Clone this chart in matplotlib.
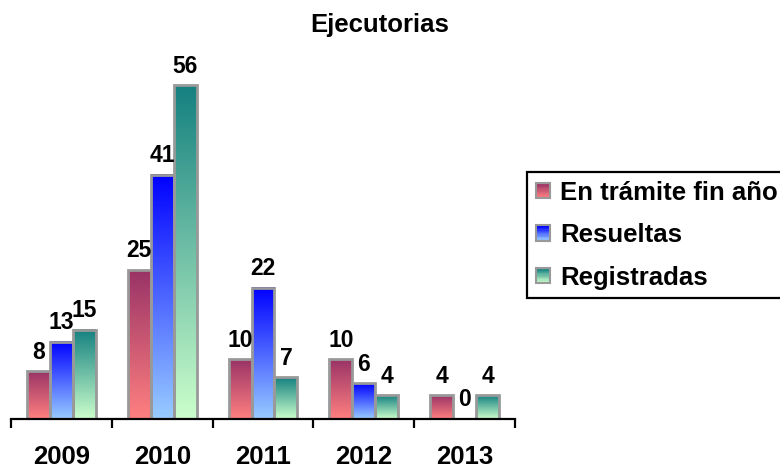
import numpy as np
import matplotlib
matplotlib.use("Agg")
import matplotlib.pyplot as plt
from matplotlib.colors import LinearSegmentedColormap
from matplotlib.patches import Rectangle
from matplotlib.legend_handler import HandlerBase

plt.rcParams['font.family'] = ['Liberation Sans', 'DejaVu Sans']
plt.rcParams['font.weight'] = 'bold'

years = ['2009', '2010', '2011', '2012', '2013']
en_tramite = [8, 25, 10, 10, 4]
resueltas = [13, 41, 22, 6, 0]
registradas = [15, 56, 7, 4, 4]

series_names = ['En trámite fin año', 'Resueltas', 'Registradas']
# (bottom colour, top colour) of each gradient
series_colors = [('#ff8080', '#993366'),
                 ('#99ccff', '#0000ff'),
                 ('#ccffcc', '#148080')]


class GradProxy:
    def __init__(self, bottom, top):
        self.bottom = bottom
        self.top = top


class GradHandler(HandlerBase):
    # legend key drawn as stacked strips to fake a vertical gradient
    def create_artists(self, legend, orig_handle, xdescent, ydescent,
                       width, height, fontsize, trans):
        cmap = LinearSegmentedColormap.from_list('g', [orig_handle.bottom, orig_handle.top])
        n = 12
        arts = []
        for i in range(n):
            r = Rectangle((-xdescent, -ydescent + i * height / n), width, height / n + 0.3,
                          facecolor=cmap(i / (n - 1)), edgecolor='none', transform=trans)
            arts.append(r)
        arts.append(Rectangle((-xdescent, -ydescent), width, height, facecolor='none',
                              edgecolor='#999999', lw=1.5, transform=trans))
        return arts


fig = plt.figure(figsize=(7.8, 4.68), dpi=100)
ax = fig.add_axes([11 / 780, 1 - 419 / 468, 504 / 780, 357.6 / 468])

x = np.arange(len(years))
w = 0.228
data = [en_tramite, resueltas, registradas]
grad = np.linspace(0, 1, 256).reshape(-1, 1)

for k, (vals, (c0, c1)) in enumerate(zip(data, series_colors)):
    cmap = LinearSegmentedColormap.from_list('s%d' % k, [c0, c1])
    xs = x + (k - 1) * w
    for xi, v in zip(xs, vals):
        if v > 0:
            ax.imshow(grad, cmap=cmap, extent=[xi - w / 2, xi + w / 2, 0, v],
                      origin='lower', aspect='auto', zorder=2)
            ax.add_patch(Rectangle((xi - w / 2, 0), w, v, facecolor='none',
                                   edgecolor='#999999', lw=2, zorder=3))
        ax.annotate(str(v), (xi, v), xytext=(0, 5.5), textcoords='offset points',
                    ha='center', va='bottom', fontsize=16.5, fontweight='bold', zorder=4)

ax.set_xlim(-0.5, len(years) - 0.5)
ax.set_ylim(0, 60)

for s in ['top', 'right', 'left']:
    ax.spines[s].set_visible(False)
ax.spines['bottom'].set_linewidth(1.6)
ax.spines['bottom'].set_zorder(5)
ax.set_yticks([])

ax.set_xticks(x)
ax.set_xticklabels(years, fontsize=18.5, fontweight='bold')
ax.tick_params(axis='x', which='major', length=0, pad=18.5)
ax.set_xticks(np.arange(len(years) + 1) - 0.5, minor=True)
ax.tick_params(axis='x', which='minor', length=6.5, width=1.6, direction='out')

fig.text(380 / 780, 1 - 32 / 468, 'Ejecutorias', ha='center', va='baseline',
         fontsize=18.5, fontweight='bold')

proxies = [GradProxy(c0, c1) for c0, c1 in series_colors]
leg = fig.legend(proxies, series_names, handler_map={GradProxy: GradHandler()},
                 loc='upper left', bbox_to_anchor=(527 / 780, 1 - 172 / 468),
                 prop={'weight': 'bold', 'size': 18.5},
                 handlelength=0.54, handleheight=0.54, handletextpad=0.4,
                 labelspacing=0.72, borderpad=0.34, borderaxespad=0,
                 fancybox=False, framealpha=1, edgecolor='black')
leg.get_frame().set_linewidth(1.6)

fig.savefig('out.png', dpi=100)
